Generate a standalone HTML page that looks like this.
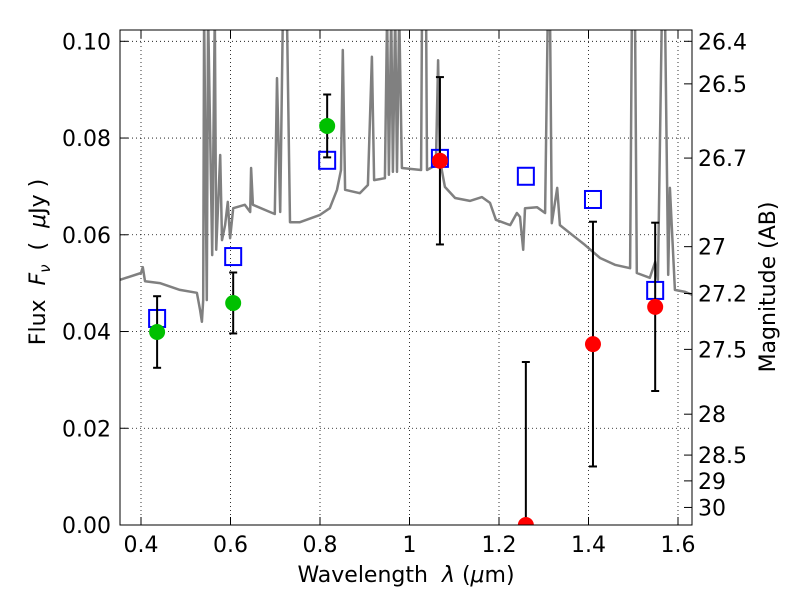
<!DOCTYPE html>
<html><head><meta charset="utf-8"><style>
body{margin:0;background:#fff}
svg text{font-family:"DejaVu Sans","Liberation Sans",sans-serif;fill:#000}
</style></head><body>
<svg id="chart" width="800" height="600" xmlns="http://www.w3.org/2000/svg">
<defs><clipPath id="clip"><rect x="120" y="30" width="572" height="495"/></clipPath></defs>
<rect width="800" height="600" fill="#fff"/>
<g id="grid"></g>
<g id="spec" clip-path="url(#clip)"></g>
<g id="marks" clip-path="url(#clip)"></g>
<rect x="120" y="30" width="572" height="495" fill="none" stroke="#000" stroke-width="1"/>
<g id="axes"></g>
<text x="406" y="582" font-size="22" text-anchor="middle" xml:space="preserve">Wavelength  <tspan font-style="italic">λ</tspan> (<tspan font-style="italic">μ</tspan>m)</text>
<text transform="translate(45,262) rotate(-90)" font-size="22" text-anchor="middle" xml:space="preserve">Flux  <tspan font-style="italic">F</tspan><tspan font-style="italic" font-size="15" dy="5">ν</tspan><tspan dy="-5">  (  </tspan><tspan font-style="italic">μ</tspan>Jy )</text>
<text transform="translate(775,287) rotate(-90)" font-size="22" text-anchor="middle">Magnitude (AB)</text>
</svg>
<script>
const specLam=[0.353,0.400,0.404,0.409,0.442,0.487,0.525,0.532,0.536,0.539,0.541,0.547,0.550,0.559,0.565,0.568,0.577,0.581,0.588,0.594,0.599,0.606,0.632,0.644,0.646,0.650,0.688,0.699,0.704,0.711,0.717,0.726,0.733,0.755,0.800,0.822,0.838,0.847,0.851,0.856,0.889,0.907,0.916,0.921,0.945,0.950,0.954,0.959,0.963,0.968,0.972,0.977,0.983,1.026,1.028,1.037,1.039,1.059,1.064,1.068,1.079,1.102,1.135,1.162,1.180,1.193,1.225,1.240,1.247,1.254,1.258,1.285,1.303,1.309,1.314,1.318,1.330,1.336,1.370,1.392,1.426,1.459,1.493,1.497,1.504,1.508,1.537,1.549,1.555,1.564,1.571,1.578,1.582,1.593,1.616,1.632];
const specFlux=[0.0507,0.0521,0.0533,0.0504,0.0500,0.0486,0.0480,0.0444,0.0420,0.0465,0.106,0.0465,0.106,0.0558,0.106,0.0569,0.0765,0.0589,0.0620,0.0668,0.0593,0.0655,0.0662,0.0647,0.0738,0.0662,0.0647,0.0643,0.0924,0.0647,0.106,0.106,0.0626,0.0626,0.0641,0.0655,0.0693,0.0734,0.0982,0.0693,0.0686,0.0703,0.0968,0.0713,0.0717,0.106,0.0724,0.106,0.0730,0.106,0.0730,0.106,0.0738,0.0734,0.106,0.106,0.0734,0.0744,0.0961,0.0755,0.0699,0.0676,0.0670,0.0678,0.0666,0.0631,0.0620,0.0645,0.0637,0.0569,0.0655,0.0657,0.0645,0.106,0.106,0.0624,0.0697,0.0620,0.0595,0.0579,0.0552,0.0538,0.0531,0.106,0.106,0.0521,0.0511,0.0544,0.0507,0.106,0.106,0.0517,0.0697,0.0486,0.0482,0.0476];
const greenLam=[0.436,0.606,0.816];
const greenFlux=[0.0399,0.0459,0.0825];
const greenErr=[0.0074,0.0063,0.0065];
const redLam=[1.068,1.26,1.41,1.549];
const redFlux=[0.0753,0.0,0.0374,0.0451];
const redErrLo=[0.0173,0.0,0.0253,0.0174];
const redErrHi=[0.0173,0.0337,0.0253,0.0174];
const modelLam=[0.436,0.606,0.816,1.068,1.26,1.41,1.549];
const modelFlux=[0.0428,0.0556,0.0755,0.0759,0.0722,0.0674,0.0486];
const xTicks=[0.4,0.6,0.8,1.0,1.2,1.4,1.6];
const xTickLabels=["0.4","0.6","0.8","1","1.2","1.4","1.6"];
const yTicks=[0,0.02,0.04,0.06,0.08,0.10];
const yTickLabels=["0.00","0.02","0.04","0.06","0.08","0.10"];
const magTicks=[26.4,26.5,26.7,27,27.2,27.5,28,28.5,29,30];
const magTickLabels=["26.4","26.5","26.7","27","27.2","27.5","28","28.5","29","30"];

const NS="http://www.w3.org/2000/svg";
const X=l=>141+(l-0.4)*447.5;
const Y=f=>525-f*4837;
function mk(parent,tag,attrs){const e=document.createElementNS(NS,tag);for(const k in attrs)e.setAttribute(k,attrs[k]);document.getElementById(parent).appendChild(e);return e;}

xTicks.forEach((t,i)=>{
  const x=X(t);
  const g=mk('grid','line',{x1:x,x2:x,y1:30,y2:525,stroke:'#000','stroke-width':0.8,'stroke-dasharray':'1,3'});
  
  
  mk('axes','line',{x1:x,x2:x,y1:525,y2:517,stroke:'#000'});
  mk('axes','line',{x1:x,x2:x,y1:30,y2:38,stroke:'#000'});
  const tx=mk('axes','text',{x:x,y:552,'font-size':22,'text-anchor':'middle'});
  tx.textContent=xTickLabels[i];
  
  
});
yTicks.forEach((t,i)=>{
  const y=Y(t);
  const g=mk('grid','line',{x1:120,x2:692,y1:y,y2:y,stroke:'#000','stroke-width':0.8,'stroke-dasharray':'1,3'});
  
  
  mk('axes','line',{x1:120,x2:128,y1:y,y2:y,stroke:'#000'});
  const tx=mk('axes','text',{x:111,y:y+8,'font-size':22,'text-anchor':'end'});
  tx.textContent=yTickLabels[i];
  
  
});
magTicks.forEach((m,i)=>{
  const y=Y(Math.pow(10,(23.9-m)/2.5));
  mk('axes','line',{x1:684,x2:692,y1:y,y2:y,stroke:'#000'});
  const tx=mk('axes','text',{x:698,y:y+8,'font-size':22});
  tx.textContent=magTickLabels[i];
  
  
});

let d=specLam.map((l,i)=>(i?'L':'M')+X(l).toFixed(1)+','+Y(specFlux[i]).toFixed(1)).join('');
const sp=mk('spec','path',{d:d,fill:'none',stroke:'#808080','stroke-width':2.5,'stroke-linejoin':'round'});



function errbar(x,lo,hi){
  mk('marks','line',{x1:x,x2:x,y1:Y(lo),y2:Y(hi),stroke:'#000','stroke-width':2});
  mk('marks','line',{x1:x-4,x2:x+4,y1:Y(lo),y2:Y(lo),stroke:'#000','stroke-width':2});
  mk('marks','line',{x1:x-4,x2:x+4,y1:Y(hi),y2:Y(hi),stroke:'#000','stroke-width':2});
}
modelLam.forEach((l,i)=>{
  const s=mk('marks','rect',{x:X(l)-8,y:Y(modelFlux[i])-8,width:16,height:17,fill:'none',stroke:'#0000ff','stroke-width':2});
  
  
});
greenLam.forEach((l,i)=>{
  const x=X(l);
  errbar(x,greenFlux[i]-greenErr[i],greenFlux[i]+greenErr[i]);
  const c=mk('marks','circle',{cx:x,cy:Y(greenFlux[i]),r:8,fill:'#00c000'});
  
  
});
redLam.forEach((l,i)=>{
  const x=X(l);
  errbar(x,redFlux[i]-redErrLo[i],redFlux[i]+redErrHi[i]);
  const c=mk('marks','circle',{cx:x,cy:Y(redFlux[i]),r:8,fill:'#ff0000'});
  
  
});
</script>
</body></html>
